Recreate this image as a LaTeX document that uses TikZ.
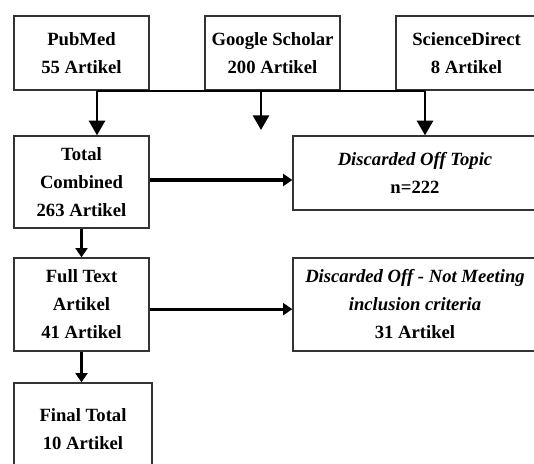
\documentclass[tikz,border=0pt]{standalone}
\usepackage{fontspec}
\setmainfont{Liberation Serif}
\usetikzlibrary{arrows.meta}
\usetikzlibrary{positioning}

\tikzset{
  box/.style={draw=black!80,line width=1pt,fill=white,align=center,inner sep=0pt,
    font=\fontsize{14}{21}\selectfont\bfseries,
    minimum width=101.25pt,minimum height=55.5pt},
  tallbox/.style={box,minimum height=69pt},
  flow/.style={line width=2pt,-{Triangle[width=9pt,length=7pt]}},
  bigflow/.style={line width=2pt,-{Triangle[width=12pt,length=11pt]}},
}

\begin{document}
\begin{tikzpicture}[x=0.75pt,y=-0.75pt]
\clip (0,0) rectangle (534,463);
\fill[white] (0,0) rectangle (534,463);

% sources
\node[box] (pubmed) at (81.5,53) {PubMed\\55 Artikel};
\node[box] (scholar) at (272.5,53) {Google Scholar\\200 Artikel};
\node[box,minimum width=105.75pt] (science) at (466.5,53) {ScienceDirect\\8 Artikel};

% left column
\node[tallbox] (total) at (81.5,182) {Total\\Combined\\263 Artikel};
\node[tallbox,minimum height=69.75pt] (full) at (81.5,304.5) {Full Text\\Artikel\\41 Artikel};
\node[tallbox,minimum width=103.5pt] (final) at (83,429) {Final Total\\10 Artikel};

% discarded
\node[box,minimum width=183pt] (offtopic) at (415,173) {\itshape Discarded Off Topic\\n=222};
\node[box,minimum width=183pt,minimum height=69.75pt] (notmeet) at (415,304.5)
  {\itshape Discarded Off - Not Meeting\\\itshape inclusion criteria\\31 Artikel};

% merge line under the sources
\coordinate (jl) at (97,91);
\coordinate (jm) at (261,91);
\coordinate (jr) at (425,91);
\coordinate (jmend) at (261,130);
\draw[line width=2pt] (jl) -- (jr);
\draw[bigflow] (jl) -- (jl |- total.north);
\draw[bigflow] (jm) -- (jmend);
\draw[bigflow] (jr) -- (jr |- offtopic.north);

% steps
\draw[flow] (total.south) -- (full.north);
\draw[flow] (full.south) -- (full.south |- final.north);
\draw[flow,line width=2.4pt] ([yshift=1.5pt]total.east) -- ([yshift=1.5pt]total.east -| offtopic.west);
\draw[flow,line width=2.4pt] ([yshift=-3.5pt]full.east) -- ([yshift=-3.5pt]full.east -| notmeet.west);
\end{tikzpicture}
\end{document}
